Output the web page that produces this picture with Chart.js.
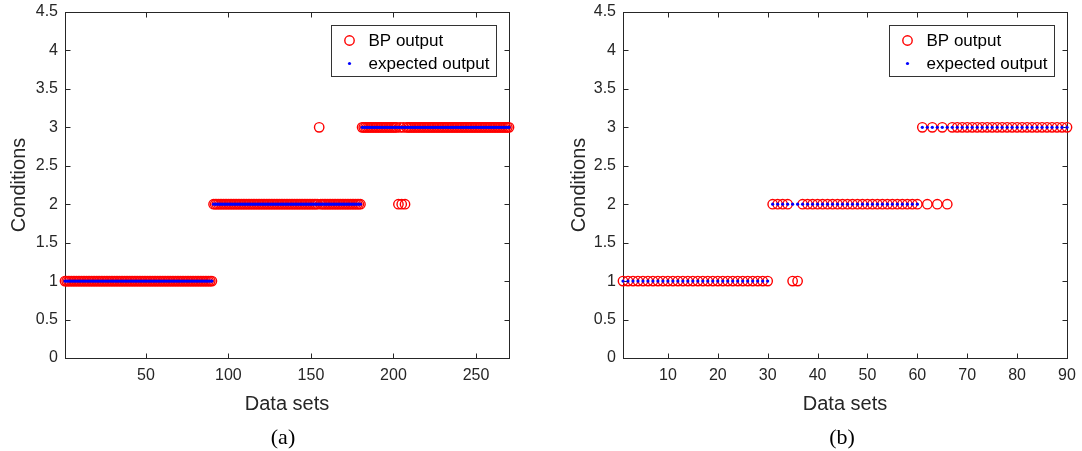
<!DOCTYPE html>
<html>
<head>
<meta charset="utf-8">
<script src="https://cdn.jsdelivr.net/npm/chart.js@4.4.1/dist/chart.umd.min.js"></script>
<style>
  body { margin: 0; background: #fff; }
  #lienzo { position: relative; width: 1082px; height: 451px; overflow: hidden; }
  canvas { position: absolute; top: 0; }
  .pie { position: absolute; top: 424px; font: 22px "Liberation Serif", "Times New Roman", serif; color: #000; transform: translateX(-50%); }
</style>
</head>
<body>
<div id="lienzo">
  <canvas id="graficoA" width="540" height="451" style="left:0"></canvas>
  <canvas id="graficoB" width="542" height="451" style="left:540px"></canvas>
  <div class="pie" style="left:283px">(a)</div>
  <div class="pie" style="left:842px">(b)</div>
</div>
<script>
// Datos, en tramos [cantidad, valor]
const tramosSalidaA = [[90, 1], [64, 2], [1, 3], [25, 2], [22, 3], [1, 2], [1, 3], [1, 2], [1, 3], [1, 2], [63, 3]];
const tramosEsperadaA = [[90, 1], [90, 2], [90, 3]];
const tramosSalidaB = [[30, 1], [4, 2], [2, 1], [24, 2], [1, 3], [1, 2], [1, 3], [1, 2], [1, 3], [1, 2], [24, 3]];
const tramosEsperadaB = [[30, 1], [30, 2], [30, 3]];

// Marcas de los ejes
const ticksXA = [50, 100, 150, 200, 250];
const ticksXB = [10, 20, 30, 40, 50, 60, 70, 80, 90];
const ticksY = [0, 0.5, 1, 1.5, 2, 2.5, 3, 3.5, 4, 4.5];

const etiquetaSalida = 'BP output';
const etiquetaEsperada = 'expected output';

const fuente = '"Liberation Sans", Arial, sans-serif';
const gris = '#262626';

// expandir los tramos a una lista de valores
const expandirTramos = (tramos) => tramos.flatMap(([n, v]) => Array(n).fill(v));

// convertir valores a puntos {x, y}
const aPuntos = (valores) => valores.map((v, i) => ({ x: i + 1, y: v }));

// caja estilo matlab con marcas hacia adentro
const marcoMatlab = {
    id: 'marcoMatlab',
    beforeDatasetsDraw(chart) {
        const { ctx, chartArea: a, scales } = chart;
        const L = Math.round(a.left) + 0.5, R = Math.round(a.right) + 0.5;
        const T = Math.round(a.top) + 0.5, B = Math.round(a.bottom) + 0.5;
        ctx.save();
        ctx.strokeStyle = gris;
        ctx.lineWidth = 1;
        ctx.beginPath();
        scales.x.ticks.forEach((t) => {
            const px = Math.round(scales.x.getPixelForValue(t.value)) + 0.5;
            if (px <= L + 1 || px >= R - 1) return;
            ctx.moveTo(px, B); ctx.lineTo(px, B - 5);
            ctx.moveTo(px, T); ctx.lineTo(px, T + 5);
        });
        scales.y.ticks.forEach((t) => {
            const py = Math.round(scales.y.getPixelForValue(t.value)) + 0.5;
            if (py <= T + 1 || py >= B - 1) return;
            ctx.moveTo(L, py); ctx.lineTo(L + 5, py);
            ctx.moveTo(R, py); ctx.lineTo(R - 5, py);
        });
        ctx.stroke();
        ctx.strokeRect(L, T, R - L, B - T);
        ctx.restore();
    }
};

// leyenda con recuadro dentro del área del gráfico
const cajaLeyenda = {
    id: 'cajaLeyenda',
    afterDatasetsDraw(chart) {
        const { ctx, chartArea: a } = chart;
        const ds = chart.data.datasets;
        const w = 165, h = 51;
        const x0 = Math.round(a.right - 13 - w) + 0.5, y0 = Math.round(a.top + 13) + 0.5;
        ctx.save();
        ctx.fillStyle = '#fff';
        ctx.fillRect(x0, y0, w, h);
        ctx.strokeStyle = '#333';
        ctx.lineWidth = 1;
        ctx.strokeRect(x0, y0, w, h);
        // circulo rojo
        ctx.beginPath();
        ctx.arc(x0 + 18, y0 + 15, ds[0].pointRadius, 0, Math.PI * 2);
        ctx.strokeStyle = ds[0].borderColor;
        ctx.lineWidth = ds[0].pointBorderWidth;
        ctx.stroke();
        // punto azul
        ctx.beginPath();
        ctx.arc(x0 + 18, y0 + 38, ds[1].pointRadius, 0, Math.PI * 2);
        ctx.fillStyle = ds[1].backgroundColor;
        ctx.fill();
        // textos
        ctx.fillStyle = '#000';
        ctx.font = '17px ' + fuente;
        ctx.textBaseline = 'middle';
        ctx.fillText(ds[0].label, x0 + 37, y0 + 15.5);
        ctx.fillText(ds[1].label, x0 + 37, y0 + 38.5);
        ctx.restore();
    }
};

// crear un gráfico
const crearGrafico = (id, salida, esperada, xMax, ticksX, anchoY, padIzq, padDer) => {
    const config = {
        type: 'scatter',
        data: {
            datasets: [
                {
                    label: etiquetaSalida,
                    data: aPuntos(expandirTramos(salida)),
                    pointStyle: 'circle',
                    pointRadius: 4.7,
                    pointBorderWidth: 1.4,
                    borderColor: '#ff0000',
                    backgroundColor: 'rgba(0,0,0,0)',
                    clip: false,
                    order: 1,
                },
                {
                    label: etiquetaEsperada,
                    data: aPuntos(expandirTramos(esperada)),
                    pointStyle: 'circle',
                    pointRadius: 1.6,
                    pointBorderWidth: 0,
                    borderColor: '#0000ff',
                    backgroundColor: '#0000ff',
                    clip: false,
                    order: 0,
                },
            ],
        },
        options: {
            responsive: false,
            animation: false,
            devicePixelRatio: 1,
            layout: { padding: { left: padIzq, right: padDer, top: 12, bottom: 33 } },
            plugins: { legend: { display: false }, tooltip: { enabled: false } },
            scales: {
                x: {
                    type: 'linear',
                    min: 1,
                    max: xMax,
                    afterBuildTicks: (s) => { s.ticks = ticksX.map((v) => ({ value: v })); },
                    afterFit: (s) => { s.height = 60; s.paddingLeft = 0; s.paddingRight = 0; },
                    grid: { display: false, drawTicks: false },
                    border: { display: false },
                    ticks: { color: gris, font: { family: fuente, size: 16 }, padding: 8, maxRotation: 0 },
                    title: { display: true, text: 'Data sets', color: gris, font: { family: fuente, size: 20 }, padding: { top: 0, bottom: 2 } },
                },
                y: {
                    min: 0,
                    max: 4.5,
                    afterBuildTicks: (s) => { s.ticks = ticksY.map((v) => ({ value: v })); },
                    afterFit: (s) => { s.width = anchoY; s.paddingTop = 0; s.paddingBottom = 0; },
                    grid: { display: false, drawTicks: false },
                    border: { display: false },
                    ticks: { color: gris, font: { family: fuente, size: 16 }, padding: 7, callback: (v) => String(v) },
                    title: { display: true, text: 'Conditions', color: gris, font: { family: fuente, size: 20 }, padding: { top: 7, bottom: 0 } },
                },
            },
        },
        plugins: [marcoMatlab, cajaLeyenda],
    };
    return new Chart(document.getElementById(id), config);
};

crearGrafico('graficoA', tramosSalidaA, tramosEsperadaA, 270, ticksXA, 65, 0, 31);
crearGrafico('graficoB', tramosSalidaB, tramosEsperadaB, 90, ticksXB, 63, 20, 15);
</script>
</body>
</html>
